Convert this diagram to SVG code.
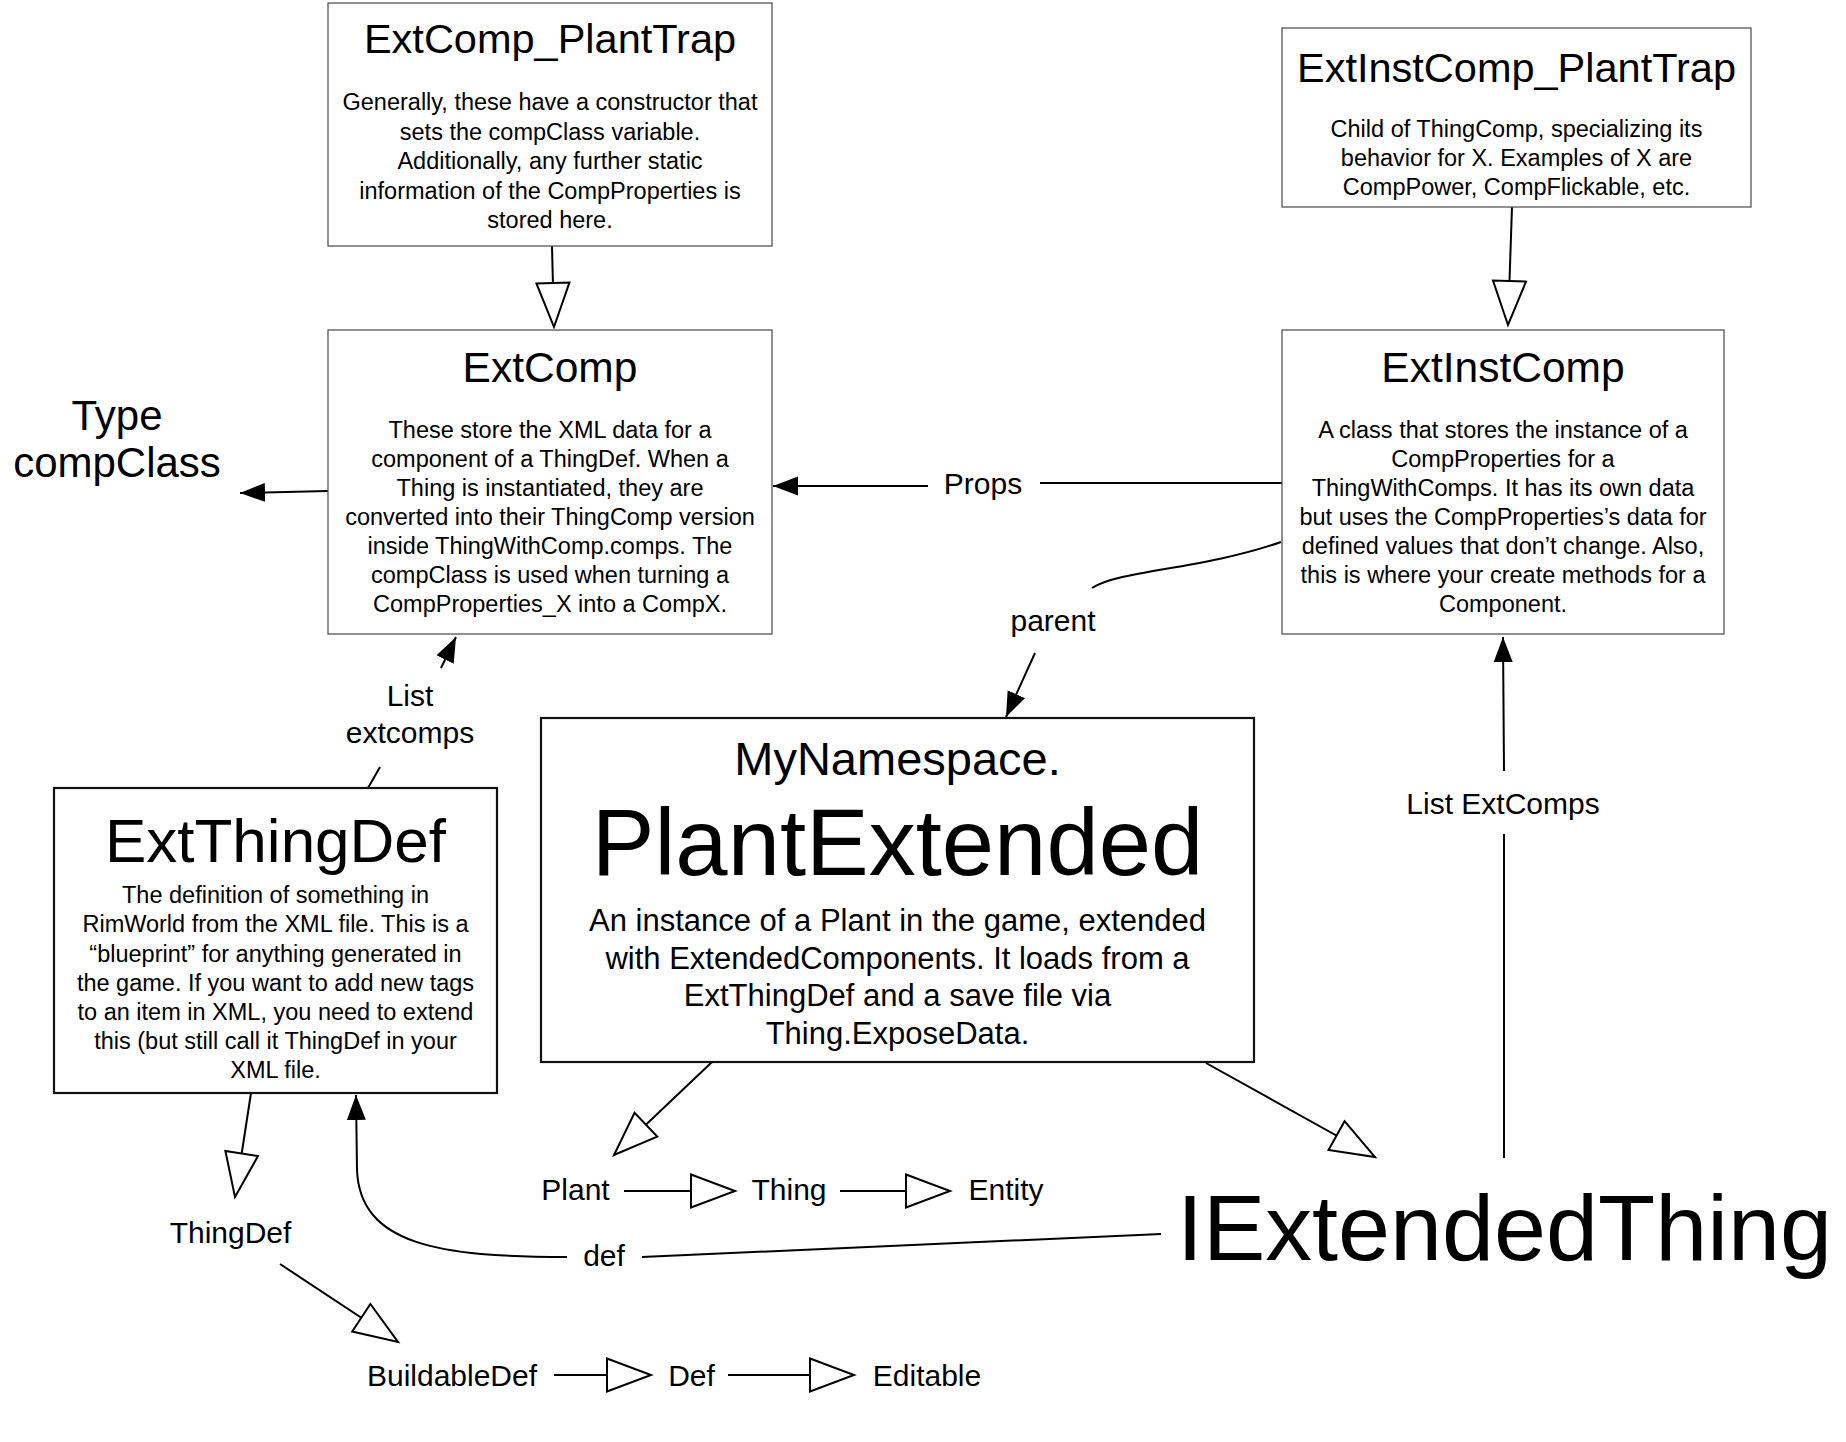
<svg xmlns="http://www.w3.org/2000/svg" width="1846" height="1442" viewBox="0 0 1846 1442">
<style>
text{font-family:"Liberation Sans",Arial,Helvetica,sans-serif;fill:#000;text-anchor:middle}
.box{fill:#fff;stroke:#555;stroke-width:1.3}
.bold{fill:#fff;stroke:#111;stroke-width:2.2}
.t41{font-size:41.5px}
.t42{font-size:42.5px}
.b{font-size:23.5px}
.lbl{font-size:30px}
.ln{fill:none;stroke:#000;stroke-width:2}
.inh{marker-end:url(#hollow)}
.ass{marker-end:url(#filled)}
</style>
<defs>
<marker id="filled" markerUnits="userSpaceOnUse" viewBox="0 0 26 20" markerWidth="26" markerHeight="20" refX="25" refY="10" orient="auto">
<path d="M0,0.5 L25,10 L0,19.5 z" fill="#000"/>
</marker>
<marker id="hollow" markerUnits="userSpaceOnUse" viewBox="-2 -2 50 38" markerWidth="50" markerHeight="38" refX="44" refY="16.5" orient="auto">
<path d="M0,0 L44,16.5 L0,33 z" fill="#fff" stroke="#000" stroke-width="2" stroke-linejoin="miter"/>
</marker>
</defs>

<g id="connectors">
<path class="ln inh" d="M552,246 L554,327"/>
<path class="ln inh" d="M1512,207 L1508,325"/>
<path class="ln ass" d="M328,491 L240,493"/>
<path class="ln" d="M1282,483 L1040,483"/>
<path class="ln ass" d="M928,486 L773,486"/>
<path class="ln" d="M1281,542 C1200,570 1120,570 1092,588"/>
<path class="ln ass" d="M1035,653 L1006,717"/>
<path class="ln" d="M368,788 L380,767"/>
<path class="ln ass" d="M441,668 L456,637"/>
<path class="ln" d="M1504,1158 L1504,834"/>
<path class="ln ass" d="M1504,771 L1503,637"/>
<path class="ln inh" d="M712,1062 L614,1155"/>
<path class="ln inh" d="M1206,1063 L1375,1157"/>
<path class="ln inh" d="M251,1093 L235,1197"/>
<path class="ln inh" d="M280,1264 L398,1342"/>
<path class="ln inh" d="M624,1191 L735,1191"/>
<path class="ln inh" d="M840,1191 L950,1191"/>
<path class="ln inh" d="M554,1375 L651,1375"/>
<path class="ln inh" d="M728,1375 L854,1375"/>
<path class="ln" d="M1161,1234 Q900,1245 642,1257"/>
<path class="ln" d="M567,1257 C440,1257 360,1245 357,1170"/>
<path class="ln ass" d="M357,1170 L356,1095"/>
<text class="lbl" x="983" y="494">Props</text>
<text class="lbl" x="1053" y="631">parent</text>
<text class="lbl" x="410" y="706">List</text>
<text class="lbl" x="410" y="743">extcomps</text>
<text class="lbl" x="1503" y="814">List ExtComps</text>
<text class="lbl" x="604" y="1266">def</text>
</g>

<g id="ExtComp_PlantTrap">
<rect class="box" x="328" y="3" width="444" height="243"/>
<text class="t41" x="550" y="53">ExtComp_PlantTrap</text>
<text class="b" x="550" y="110">Generally, these have a constructor that</text>
<text class="b" x="550" y="139.5">sets the compClass variable.</text>
<text class="b" x="550" y="169">Additionally, any further static</text>
<text class="b" x="550" y="198.5">information of the CompProperties is</text>
<text class="b" x="550" y="228">stored here.</text>
</g>

<g id="ExtInstComp_PlantTrap">
<rect class="box" x="1282" y="28" width="469" height="179"/>
<text class="t41" x="1516.5" y="82">ExtInstComp_PlantTrap</text>
<text class="b" x="1516.5" y="137">Child of ThingComp, specializing its</text>
<text class="b" x="1516.5" y="166">behavior for X. Examples of X are</text>
<text class="b" x="1516.5" y="195">CompPower, CompFlickable, etc.</text>
</g>

<g id="ExtComp">
<rect class="box" x="328" y="330" width="444" height="304"/>
<text class="t42" x="550" y="382">ExtComp</text>
<text class="b" x="550" y="438">These store the XML data for a</text>
<text class="b" x="550" y="467">component of a ThingDef. When a</text>
<text class="b" x="550" y="496">Thing is instantiated, they are</text>
<text class="b" x="550" y="525">converted into their ThingComp version</text>
<text class="b" x="550" y="554">inside ThingWithComp.comps. The</text>
<text class="b" x="550" y="583">compClass is used when turning a</text>
<text class="b" x="550" y="612">CompProperties_X into a CompX.</text>
</g>

<g id="ExtInstComp">
<rect class="box" x="1282" y="330" width="442" height="304"/>
<text class="t42" x="1503" y="382">ExtInstComp</text>
<text class="b" x="1503" y="438">A class that stores the instance of a</text>
<text class="b" x="1503" y="467">CompProperties for a</text>
<text class="b" x="1503" y="496">ThingWithComps. It has its own data</text>
<text class="b" x="1503" y="525">but uses the CompProperties’s data for</text>
<text class="b" x="1503" y="554">defined values that don’t change. Also,</text>
<text class="b" x="1503" y="583">this is where your create methods for a</text>
<text class="b" x="1503" y="612">Component.</text>
</g>

<g id="TypeCompClass">
<text x="117" y="430" style="font-size:42px">Type</text>
<text x="117" y="477" style="font-size:42px">compClass</text>
</g>

<g id="ExtThingDef">
<rect class="bold" x="54" y="788" width="443" height="305"/>
<text x="275.5" y="862" style="font-size:62px">ExtThingDef</text>
<text class="b" x="275.5" y="903">The definition of something in</text>
<text class="b" x="275.5" y="932">RimWorld from the XML file. This is a</text>
<text class="b" x="275.5" y="961.5">“blueprint” for anything generated in</text>
<text class="b" x="275.5" y="991">the game. If you want to add new tags</text>
<text class="b" x="275.5" y="1020">to an item in XML, you need to extend</text>
<text class="b" x="275.5" y="1049">this (but still call it ThingDef in your</text>
<text class="b" x="275.5" y="1078">XML file.</text>
</g>

<g id="PlantExtended">
<rect class="bold" x="541" y="718" width="713" height="344"/>
<text x="897.5" y="775" style="font-size:47px">MyNamespace.</text>
<text x="897.5" y="875" style="font-size:94px">PlantExtended</text>
<text x="897.5" y="931" style="font-size:31px">An instance of a Plant in the game, extended</text>
<text x="897.5" y="968.5" style="font-size:31px">with ExtendedComponents. It loads from a</text>
<text x="897.5" y="1006" style="font-size:31px">ExtThingDef and a save file via</text>
<text x="897.5" y="1043.5" style="font-size:31px">Thing.ExposeData.</text>
</g>

<g id="IExtendedThing">
<text x="1177" y="1260" style="font-size:93.5px;text-anchor:start">IExtendedThing</text>
</g>
<g id="ThingDef"><text class="lbl" x="230.5" y="1243">ThingDef</text></g>
<g id="Plant"><text class="lbl" x="575.5" y="1200">Plant</text></g>
<g id="Thing"><text class="lbl" x="789" y="1200">Thing</text></g>
<g id="Entity"><text class="lbl" x="1006" y="1200">Entity</text></g>
<g id="BuildableDef"><text class="lbl" x="452" y="1386">BuildableDef</text></g>
<g id="Def"><text class="lbl" x="691.5" y="1386">Def</text></g>
<g id="Editable"><text class="lbl" x="927" y="1386">Editable</text></g>
</svg>
